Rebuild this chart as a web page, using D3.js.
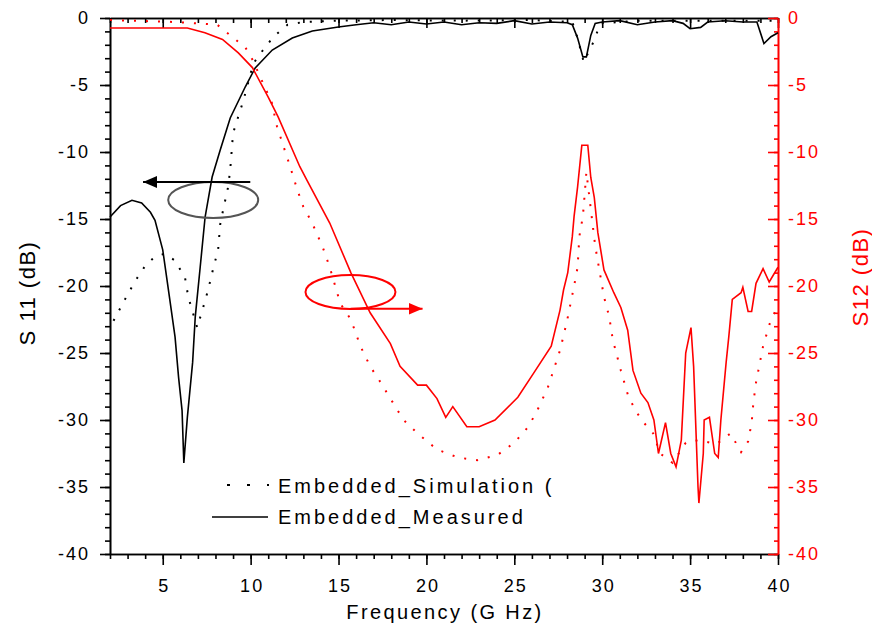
<!DOCTYPE html>
<html lang="en">
<head>
<meta charset="utf-8">
<title>S11 / S12</title>
<script src="https://cdn.jsdelivr.net/npm/d3@7"></script>
<style>
  body { margin: 0; background: white; }
  text { font-family: "Liberation Sans", Arial, sans-serif; }
</style>
</head>
<body>
<div id="container"></div>
<script>
// S11 simulation (black dotted)
const s11SimFreq = [2.2, 2.85, 3.4, 4.0, 4.56, 5.1, 5.7, 6.27, 6.45, 6.96, 7.3, 7.58, 7.87, 8.15, 8.27, 8.44, 8.72, 8.84, 9.0, 9.6, 10.15, 10.7, 11.3, 12.1, 13, 15, 18, 22, 26, 28.3, 28.6, 28.95, 29.2, 29.5, 29.9, 32, 36, 40];
const s11SimDb   = [-22.6, -21, -19.7, -18.5, -17.8, -17.6, -18.1, -19.4, -20.8, -23.1, -21.6, -20.3, -18.7, -17.3, -15.4, -14.3, -12.6, -11.3, -8.6, -6.1, -3.4, -2.4, -1.4, -0.5, -0.3, -0.2, -0.15, -0.2, -0.15, -0.3, -1.5, -3.3, -2.6, -1.8, -0.4, -0.2, -0.2, -0.2];

// S11 measured (black solid)
const s11MeasFreq = [2, 2.6, 3.25, 3.8, 4.3, 4.56, 5.0, 5.4, 5.7, 5.9, 6.1, 6.2, 6.4, 6.7, 6.85, 7.13, 7.41, 7.81, 8.27, 8.84, 9.69, 10.26, 11.23, 12.37, 13.51, 14.99, 16, 17, 18, 19, 20, 21, 22, 23, 24, 25, 26, 27, 28, 28.3, 28.6, 28.9, 29.1, 29.35, 29.6, 30, 31, 32, 33, 34, 34.6, 35, 35.6, 36, 37, 38, 38.8, 39.2, 39.6, 40];
const s11MeasDb   = [-14.85, -14.0, -13.6, -13.8, -14.5, -15.1, -17.3, -21, -23.8, -26.8, -29.3, -33.2, -29.8, -25.7, -22.3, -18.6, -14.85, -11.87, -9.85, -7.46, -5.15, -3.73, -2.39, -1.49, -0.97, -0.67, -0.5, -0.35, -0.5, -0.3, -0.45, -0.3, -0.5, -0.35, -0.4, -0.2, -0.45, -0.3, -0.35, -0.5, -1.5, -2.9, -2.9, -1.3, -0.4, -0.3, -0.2, -0.5, -0.3, -0.2, -0.4, -0.8, -0.7, -0.3, -0.2, -0.3, -0.3, -1.9, -1.4, -1.1];

// S12 simulation (red dotted)
const s12SimFreq = [2, 5.7, 7, 8.1, 9.7, 10.1, 11.2, 11.5, 12.25, 12.65, 13, 13.5, 14.1, 14.5, 15.1, 15.7, 16.25, 16.8, 17.4, 18, 18.7, 19.5, 20.6, 21.8, 22.9, 24.05, 25, 25.8, 26.3, 26.9, 27.6, 28.0, 28.4, 28.6, 28.7, 28.9, 29.0, 29.1, 29.6, 30.1, 30.4, 30.6, 30.8, 31.06, 31.5, 32, 32.3, 32.9, 33.3, 34, 34.75, 35.5, 36.5, 37.3, 37.9, 38.3, 38.5, 38.6, 38.75, 39.15, 39.6, 40];
const s12SimDb   = [-0.15, -0.3, -0.4, -0.5, -2.2, -3.1, -6.3, -8.1, -11.1, -12.8, -14.1, -15.3, -17.1, -18.6, -21.3, -22.5, -24.5, -26, -27.2, -28.5, -30, -31, -32.2, -32.8, -33, -32.6, -31.7, -30.5, -29.3, -27.6, -24.8, -22.6, -20, -18.6, -16.3, -14.8, -13.2, -11.5, -17, -20.8, -22.3, -24, -25, -26.3, -28.3, -29.5, -30.1, -31, -32.5, -33.2, -31.7, -31.5, -31.8, -31, -32.4, -31.6, -30.2, -28.7, -27.2, -24.5, -22.5, -21.5];

// S12 measured (red solid)
const s12MeasFreq = [2, 6.4, 7.4, 8.4, 9.3, 10.1, 11.0, 11.57, 12.8, 13.2, 14.5, 15.7, 16.8, 17.95, 18.5, 19.5, 20.0, 20.6, 21.1, 21.5, 22.3, 23.0, 23.9, 25.2, 26.1, 27.1, 27.6, 27.8, 28.04, 28.3, 28.4, 28.6, 28.84, 29.18, 29.35, 29.55, 29.75, 30.1, 30.66, 31.06, 31.45, 31.75, 32.2, 32.6, 32.94, 33.2, 33.6, 33.9, 34.2, 34.5, 34.75, 35.05, 35.2, 35.45, 35.5, 35.75, 35.8, 36.1, 36.4, 36.6, 36.75, 37.05, 37.2, 37.4, 37.9, 38.0, 38.3, 38.5, 38.75, 39.15, 39.5, 40];
const s12MeasDb   = [-0.75, -0.75, -1.1, -1.6, -2.6, -3.7, -5.9, -7.4, -11.1, -12.1, -15.3, -19, -22, -24.3, -26, -27.4, -27.4, -28.4, -29.8, -29, -30.5, -30.5, -30, -28.3, -26.5, -24.5, -21.8, -20.3, -19, -16.3, -14.8, -12.6, -9.5, -9.5, -11.9, -13.4, -16, -18.8, -20.5, -21.6, -23.3, -26.3, -28, -28.7, -30, -32.5, -30.2, -32.5, -33.5, -31.5, -25, -23.1, -26, -35, -36.2, -32.5, -30, -29.8, -32.5, -32.8, -30, -25.7, -23.8, -21, -20.5, -20.1, -21.9, -21.9, -19.8, -18.7, -19.7, -18.6];

const xMajor = [5, 10, 15, 20, 25, 30, 35, 40];
const yMajor = [0, -5, -10, -15, -20, -25, -30, -35, -40];
const legendNames = ["Embedded_Simulation (", "Embedded_Measured"];

const margin = {top: 18, right: 94, bottom: 73, left: 110};
const width = 872 - margin.left - margin.right;
const height = 627 - margin.top - margin.bottom;
const red = "#ff0000";

const root = d3.select("#container").append("svg")
    .attr("width", 872)
    .attr("height", 627);

const svg = root.append("g")
    .attr("transform", `translate(${margin.left}, ${margin.top})`);

const x = d3.scaleLinear().domain([2, 40]).range([0, width]);
const y = d3.scaleLinear().domain([-40, 0]).range([height, 0]);
const y2 = d3.scaleLinear().domain([-40, 0]).range([height, 0]);

const fmt = (d) => String(d);
const minorX = d3.range(2, 41);
const minorY = d3.range(-40, 1);

function styleTicks(g, color, size, spacing) {
  g.selectAll("path, line").attr("stroke", color).attr("stroke-width", 1.6);
  g.selectAll("text").attr("fill", color).style("font-size", size + "px").style("letter-spacing", spacing + "px");
}

// bottom axis
svg.append("g").attr("transform", `translate(0, ${height})`)
    .call(d3.axisBottom(x).tickValues(minorX).tickSize(5).tickSizeOuter(0).tickFormat(""))
    .call(g => styleTicks(g, "black", 18, 2));
svg.append("g").attr("transform", `translate(0, ${height})`)
    .call(d3.axisBottom(x).tickValues(xMajor).tickSize(11).tickSizeOuter(0).tickFormat(fmt))
    .call(g => styleTicks(g, "black", 18, 2))
    .call(g => g.selectAll("text").attr("y", 38).attr("dy", null).attr("dx", 1));

// top axis, ticks inside
svg.append("g")
    .call(d3.axisBottom(x).tickValues(minorX).tickSize(5).tickSizeOuter(0).tickFormat(""))
    .call(g => styleTicks(g, "black", 18, 2));
svg.append("g")
    .call(d3.axisBottom(x).tickValues(xMajor).tickSize(10).tickSizeOuter(0).tickFormat(""))
    .call(g => styleTicks(g, "black", 18, 2));

// left axis
svg.append("g")
    .call(d3.axisLeft(y).tickValues(minorY).tickSize(5).tickSizeOuter(0).tickFormat(""))
    .call(g => styleTicks(g, "black", 18, 2));
svg.append("g")
    .call(d3.axisLeft(y).tickValues(yMajor).tickSize(10).tickPadding(12).tickSizeOuter(0).tickFormat(fmt))
    .call(g => styleTicks(g, "black", 18, 2))
    .call(g => g.selectAll("text").attr("dx", 2));

// right axis (red), ticks inside
svg.append("g").attr("transform", `translate(${width}, 0)`)
    .call(d3.axisRight(y2).tickValues(minorY).tickSize(-4).tickSizeOuter(0).tickFormat(""))
    .call(g => styleTicks(g, red, 18, 2));
svg.append("g").attr("transform", `translate(${width}, 0)`)
    .call(d3.axisRight(y2).tickValues(yMajor).tickSize(-10).tickPadding(10).tickSizeOuter(0).tickFormat(fmt))
    .call(g => styleTicks(g, red, 18, 2));

// axis titles
svg.append("text")
    .attr("x", width / 2 + 1).attr("y", 601)
    .attr("text-anchor", "middle")
    .style("font-size", "20px").style("letter-spacing", "2.4px")
    .text("Frequency (G Hz)");

svg.append("text")
    .attr("transform", `translate(${27 - margin.left}, ${293 - margin.top}) rotate(-90)`)
    .attr("text-anchor", "middle").attr("dominant-baseline", "central")
    .style("font-size", "22px").style("letter-spacing", "1.5px")
    .text("S 11 (dB)");

svg.append("text")
    .attr("transform", `translate(${860 - margin.left}, ${277 - margin.top}) rotate(-90)`)
    .attr("text-anchor", "middle").attr("dominant-baseline", "central")
    .attr("fill", red)
    .style("font-size", "22px").style("letter-spacing", "1.5px")
    .text("S12 (dB)");

// curves
const line = (fs, ds, scale) => d3.line()
    .x((d, i) => x(fs[i]))
    .y((d) => scale(d))(ds);

svg.append("path").attr("d", line(s11SimFreq, s11SimDb, y))
    .attr("fill", "none").attr("stroke", "black").attr("stroke-width", 2).attr("stroke-dasharray", "2,10");
svg.append("path").attr("d", line(s12SimFreq, s12SimDb, y2))
    .attr("fill", "none").attr("stroke", red).attr("stroke-width", 2).attr("stroke-dasharray", "2,10");
svg.append("path").attr("d", line(s11MeasFreq, s11MeasDb, y))
    .attr("fill", "none").attr("stroke", "black").attr("stroke-width", 1.6);
svg.append("path").attr("d", line(s12MeasFreq, s12MeasDb, y2))
    .attr("fill", "none").attr("stroke", red).attr("stroke-width", 1.6);

// arrows + ellipses marking which axis belongs to which curve
const defs = root.append("defs");
[["arrowBlack", "black"], ["arrowRed", red]].forEach(([id, c]) => {
  defs.append("marker").attr("id", id)
      .attr("markerUnits", "userSpaceOnUse")
      .attr("markerWidth", 16).attr("markerHeight", 14)
      .attr("refX", 14).attr("refY", 7).attr("orient", "auto")
    .append("path").attr("d", "M0,1 L14,7 L0,13 Z").attr("fill", c);
});

svg.append("ellipse")
    .attr("cx", x(7.87)).attr("cy", y(-13.58)).attr("rx", 45).attr("ry", 18)
    .attr("fill", "none").attr("stroke", "#555").attr("stroke-width", 2);
svg.append("line")
    .attr("x1", x(9.98)).attr("x2", x(3.88)).attr("y1", y(-12.24)).attr("y2", y(-12.24))
    .attr("stroke", "black").attr("stroke-width", 2).attr("marker-end", "url(#arrowBlack)");

svg.append("ellipse")
    .attr("cx", x(15.68)).attr("cy", y(-20.45)).attr("rx", 45).attr("ry", 17)
    .attr("fill", "none").attr("stroke", red).attr("stroke-width", 2);
svg.append("line")
    .attr("x1", x(15.68)).attr("x2", x(19.78)).attr("y1", y(-21.7)).attr("y2", y(-21.7))
    .attr("stroke", red).attr("stroke-width", 2).attr("marker-end", "url(#arrowRed)");

// legend
const legend = svg.append("g").attr("transform", `translate(${212 - margin.left}, ${485 - margin.top})`);
legend.append("line").attr("x1", 15).attr("x2", 57).attr("y1", 0).attr("y2", 0)
    .attr("stroke", "black").attr("stroke-width", 2).attr("stroke-dasharray", "3,17");
legend.append("line").attr("x1", 0).attr("x2", 56).attr("y1", 32).attr("y2", 32)
    .attr("stroke", "black").attr("stroke-width", 1.6);
legend.selectAll("text.leg")
    .data(legendNames)
    .enter()
    .append("text")
      .attr("class", "leg")
      .attr("x", 66)
      .attr("y", (d, i) => 8 + i * 31)
      .style("font-size", "20px").style("letter-spacing", "3px")
      .text((d) => d);
</script>
</body>
</html>
